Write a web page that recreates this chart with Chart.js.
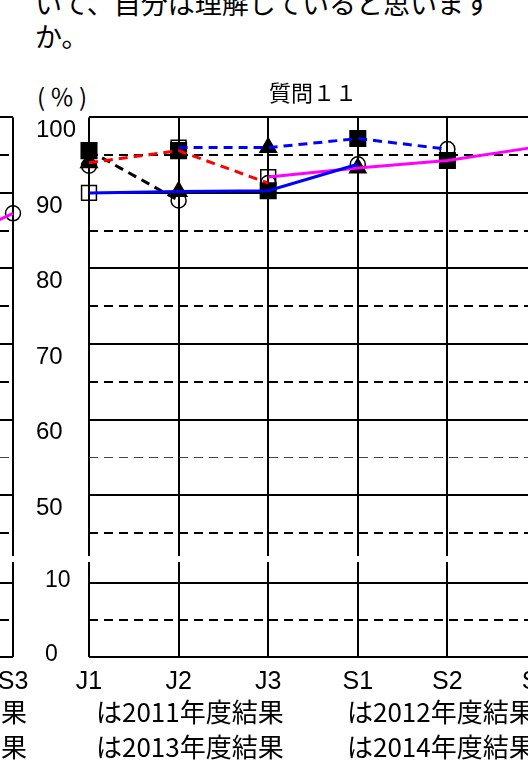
<!DOCTYPE html>
<html lang="ja">
<head>
<meta charset="utf-8">
<script src="https://cdn.jsdelivr.net/npm/chart.js@4"></script>
<style>
  html, body { margin: 0; padding: 0; overflow: hidden; background: #fff; }
  #page { position: relative; width: 528px; height: 766px; overflow: hidden; }
  #page canvas { position: absolute; }
  .txt { position: absolute; font-family: "Noto Sans CJK JP", sans-serif; color: #000; white-space: nowrap; }
  .legend { font-size: 26px; line-height: 30px; }
</style>
</head>
<body>
<div id="page">
  <div class="txt" style="left:35px; top:-14px; font-size:27px; line-height:33px;">いて、自分は理解していると思います<br>か。</div>
  <div class="txt" style="left:37px; top:78px; font-size:24px; letter-spacing:5px;">(％)</div>

  <canvas id="leftUpper"></canvas>
  <canvas id="leftLower"></canvas>
  <canvas id="mainUpper"></canvas>
  <canvas id="mainLower"></canvas>

  <div class="txt legend" style="right:501px; top:696px;">は2012年度結果</div>
  <div class="txt legend" style="right:501px; top:731px;">は2014年度結果</div>
  <div class="txt legend" style="left:96px; top:696px;">は2011年度結果</div>
  <div class="txt legend" style="left:347px; top:696px;">は2012年度結果</div>
  <div class="txt legend" style="left:96px; top:731px;">は2013年度結果</div>
  <div class="txt legend" style="left:347px; top:731px;">は2014年度結果</div>
</div>

<script>
// grades on the x axis
const categories = ['J1', 'J2', 'J3', 'S1', 'S2', 'S3'];

// 質問１１: survey results per year, one value per grade (%)
const q11y2011 = [90.0, 96.0, 92.1, null, null, null];
const q11y2012 = [94.0, 90.2, 96.0, 93.3, null, null];
const q11y2013 = [95.6, 95.6, 90.3, 97.2, 94.3, null];
const q11y2014 = [93.6, 89.0, 91.3, 93.8, 95.8, 96.1];

// previous chart (only its right edge is in view)
const q10y2011 = [null, null, null, null, null, null];
const q10y2012 = [null, null, null, null, null, null];
const q10y2013 = [null, null, null, null, 81.8, null];
const q10y2014 = [null, null, null, null, null, 87.3];

// y axis ticks of the two parts of the broken axis
const upperTicks = [45, 50, 55, 60, 65, 70, 75, 80, 85, 90, 95, 100];
const lowerTicks = [0, 5, 10];

// marker per survey year (2011..2014)
const yearMarkers = [
  { style: 'rect', radius: 10.5, fill: 'rgba(0,0,0,0)' },
  { style: 'triangle', radius: 9.5, fill: '#000' },
  { style: 'rect', radius: 11, fill: '#000' },
  { style: 'circle', radius: 7.5, fill: 'rgba(0,0,0,0)' }
];

// cohorts: start grade index + start year index, followed year by year
const cohorts = [
  { grade: 0, year: 0, color: '#0000ff', dash: [] },
  { grade: 0, year: 1, color: '#ff0000', dash: [9, 6] },
  { grade: 0, year: 2, color: '#000000', dash: [9, 6] },
  { grade: 1, year: 0, color: '#0000ff', dash: [9, 6] },
  { grade: 2, year: 0, color: '#ff00ff', dash: [] }
];

const PAD_RIGHT = 89;
const CANVAS_W = 626;

function cohortData(rows, grade, year) {
  return categories.map((_, i) => {
    const k = i - grade;
    const row = rows[year + k];
    return (k >= 0 && row) ? row[i] : null;
  });
}

function buildDatasets(rows) {
  const lines = cohorts.map(c => ({
    data: cohortData(rows, c.grade, c.year),
    borderColor: c.color,
    borderWidth: 3,
    borderDash: c.dash,
    pointRadius: 0,
    fill: false,
    tension: 0
  })).filter(d => d.data.filter(v => v !== null).length > 1);

  // filled markers above hollow ones: 2013, 2012, 2014, 2011
  const markers = [2, 1, 3, 0].map(y => ({
    data: rows[y],
    showLine: false,
    pointStyle: yearMarkers[y].style,
    pointRadius: yearMarkers[y].radius,
    pointBackgroundColor: yearMarkers[y].fill,
    pointBorderColor: '#000',
    pointBorderWidth: 1.5
  }));
  return lines.concat(markers);
}

function yGrid() {
  return {
    drawTicks: false,
    color: ctx => (ctx.tick && ctx.tick.value === 55) ? '#444' : '#000',
    lineWidth: ctx => (ctx.tick && ctx.tick.value === 55) ? 1 : 2,
    borderDash: ctx => (ctx.tick && ctx.tick.value % 10) ? [9, 6] : []
  };
}

function yBorder() {
  return {
    display: false,
    dash: ctx => (ctx.tick && ctx.tick.value % 10) ? [9, 6] : []
  };
}

function makeUpper(id, left, title, rows) {
  const canvas = document.getElementById(id);
  canvas.width = CANVAS_W;
  canvas.height = 508;
  canvas.style.left = left + 'px';
  canvas.style.top = '60px';
  return new Chart(canvas, {
    type: 'line',
    data: { labels: categories, datasets: buildDatasets(rows) },
    options: {
      responsive: false,
      animation: false,
      layout: { padding: { left: 36, right: PAD_RIGHT, top: 0, bottom: 5 } },
      plugins: {
        legend: { display: false },
        tooltip: { enabled: false },
        title: {
          display: true,
          fullSize: false,
          text: title,
          color: '#000',
          font: { family: 'Noto Sans CJK JP', size: 22, weight: 'normal' },
          padding: { top: 19, bottom: 12 }
        }
      },
      scales: {
        x: {
          offset: false,
          afterFit: s => { s.height = 0; },
          grid: { color: '#000', lineWidth: 2, drawTicks: false, offset: false },
          border: { display: false },
          ticks: { display: false }
        },
        y: {
          min: 42,
          max: 100,
          afterBuildTicks: s => { s.ticks = upperTicks.map(v => ({ value: v })); },
          afterFit: s => { s.width = 53; s.paddingTop = 0; s.paddingBottom = 0; },
          grid: yGrid(),
          border: yBorder(),
          ticks: {
            callback: v => (v % 10 === 0 ? String(v) : ''),
            crossAlign: 'far',
            labelOffset: 13,
            padding: 0,
            color: '#000',
            font: { family: 'Liberation Sans', size: 24 }
          }
        }
      }
    }
  });
}

function makeLower(id, left) {
  const canvas = document.getElementById(id);
  canvas.width = CANVAS_W;
  canvas.height = 160;
  canvas.style.left = left + 'px';
  canvas.style.top = '540px';
  return new Chart(canvas, {
    type: 'line',
    data: { labels: categories, datasets: [] },
    options: {
      responsive: false,
      animation: false,
      layout: { padding: { left: 45, right: PAD_RIGHT, top: 22, bottom: 0 } },
      plugins: { legend: { display: false }, tooltip: { enabled: false } },
      scales: {
        x: {
          offset: false,
          afterFit: s => { s.height = 43; },
          grid: { color: '#000', lineWidth: 2, drawTicks: false, offset: false },
          border: { display: false },
          ticks: {
            color: '#000',
            padding: 10,
            maxRotation: 0,
            autoSkip: false,
            font: { family: 'Liberation Sans', size: 25 }
          }
        },
        y: {
          min: 0,
          max: 12.8,
          afterBuildTicks: s => { s.ticks = lowerTicks.map(v => ({ value: v })); },
          afterFit: s => { s.width = 44; s.paddingTop = 0; s.paddingBottom = 0; },
          grid: yGrid(),
          border: yBorder(),
          ticks: {
            callback: v => (v % 10 === 0 ? String(v) : ''),
            crossAlign: 'far',
            labelOffset: -2,
            padding: 0,
            color: '#000',
            font: { family: 'Liberation Sans', size: 23 }
          }
        }
      }
    }
  });
}

const q11Rows = [q11y2011, q11y2012, q11y2013, q11y2014];
const q10Rows = [q10y2011, q10y2012, q10y2013, q10y2014];

makeUpper('leftUpper', -524, '質問１０', q10Rows);
makeLower('leftLower', -524);
makeUpper('mainUpper', 0, '質問１１', q11Rows);
makeLower('mainLower', 0);
</script>
</body>
</html>
